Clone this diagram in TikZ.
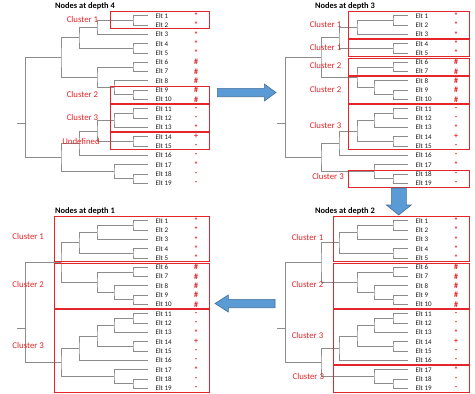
\documentclass[tikz,border=0pt]{standalone}
\usepackage{fontspec}
\setmainfont{Carlito}
\usepackage{tikz}
\usetikzlibrary{positioning}
\definecolor{astgrau}{RGB}{140,140,140}
\definecolor{boxrot}{RGB}{228,38,42}
\definecolor{pfeilblau}{RGB}{91,155,213}
\definecolor{pfeilrand}{RGB}{65,113,156}

\tikzset{
  branch/.style={astgrau, line width=0.8pt},
  clusterbox/.style={boxrot, line width=1pt},
  clusterlabel/.style={text=boxrot, font=\fontsize{8.8}{9}\selectfont, inner sep=0pt},
  eltlabel/.style={anchor=west, text=black!90, font=\fontsize{7}{7}\selectfont, inner sep=0pt},
  eltmark/.style={text=boxrot, font=\bfseries\fontsize{8}{8}\selectfont, inner sep=0pt},
  paneltitle/.style={font=\bfseries\fontsize{8.4}{9}\selectfont, inner sep=0pt},
  blockarrow/.style={fill=pfeilblau, draw=pfeilrand, line width=0.6pt, line join=miter}
}

% Dendrogramm, Blatt i liegt bei y=i
\newcommand{\dendro}{%
  % Blaetter mit Namen und Zeichen
  \foreach \i/\m in {1/*,2/*,3/*,4/*,5/*,6/\#,7/\#,8/\#,9/\#,10/\#,11/-,12/-,13/*,14/+,15/-,16/-,17/*,18/-,19/-}{
    \coordinate (e\i) at (148,\i);
    \node[eltlabel] (t\i) at (155.5,\i) {Elt \i};
    \node[eltmark] (s\i) at (196,\i) {\m};
  }
  % Verzweigungen
  \coordinate (m12) at (133,1.5);
  \coordinate (m123) at (97,2.25);
  \coordinate (m45) at (133,4.5);
  \coordinate (mA) at (79,3.375);
  \coordinate (m67) at (133,6.5);
  \coordinate (m910) at (133,9.5);
  \coordinate (m8910) at (114,8.75);
  \coordinate (mB) at (97,7.625);
  \coordinate (mAB) at (61,5.5);
  \coordinate (m1112) at (133,11.5);
  \coordinate (m1113) at (114,12.25);
  \coordinate (m1415) at (133,14.5);
  \coordinate (m1115) at (97,13.375);
  \coordinate (m1116) at (79,14.69);
  \coordinate (m1819) at (133,18.5);
  \coordinate (m1719) at (114,17.75);
  \coordinate (mC) at (61,16.22);
  \coordinate (wurzel) at (25.7,12.6);
  \coordinate (stumpf) at (17,12.6);
  \foreach \a/\v/\b in {e1/m12/e2, m12/m123/e3, e4/m45/e5, m123/mA/m45,
      e6/m67/e7, e9/m910/e10, e8/m8910/m910, m67/mB/m8910, mA/mAB/mB,
      e11/m1112/e12, m1112/m1113/e13, e14/m1415/e15, m1113/m1115/m1415,
      m1115/m1116/e16, e18/m1819/e19, e17/m1719/m1819, m1116/mC/m1719,
      mAB/wurzel/mC}
    \draw[branch] (\a) -| (\v) |- (\b);
  \draw[branch] (wurzel) -- (stumpf);
}

% roter Rahmen um Blatt #2 bis #3, linker Rand #1
\newcommand{\cbox}[3]{\draw[clusterbox] (#1,#2-0.42) rectangle (209.3,#3+0.42);}

\begin{document}
\begin{tikzpicture}[x=1pt, y=-1pt]
\fill[white] (0,0) rectangle (475,394);
\useasboundingbox (0,0) rectangle (475,394);

% oben links: Tiefe 4
\begin{scope}[shift={(0pt,-6.39pt)}, y=-9.31pt, name prefix=tl-]
  \node[paneltitle] (titel) at (85,0.03) {Nodes at depth 4};
  \dendro
  \cbox{110}{1}{2}
  \cbox{110}{9}{10}
  \cbox{110}{11}{13}
  \cbox{110}{14}{15}
  \node[clusterlabel] (c1) at (82.5,1.43) {Cluster 1};
  \node[clusterlabel] (c2) at (82.5,9.44) {Cluster 2};
  \node[clusterlabel] (c3) at (82.5,11.91) {Cluster 3};
  \node[clusterlabel] (undef) at (81,14.46) {Undefined};
\end{scope}

% oben rechts: Tiefe 3
\begin{scope}[shift={(260pt,-6.39pt)}, y=-9.31pt, name prefix=tr-]
  \node[paneltitle] (titel) at (85,0.03) {Nodes at depth 3};
  \dendro
  \cbox{88.3}{1}{3}
  \cbox{88.3}{4}{5}
  \cbox{88.3}{6}{7}
  \cbox{88.3}{8}{10}
  \cbox{88.3}{11}{15}
  \cbox{88.3}{18}{19}
  \node[clusterlabel] (c1) at (65.5,1.92) {Cluster 1};
  \node[clusterlabel] (c1b) at (65.5,4.39) {Cluster 1};
  \node[clusterlabel] (c2) at (65.5,6.40) {Cluster 2};
  \node[clusterlabel] (c2b) at (65.5,8.91) {Cluster 2};
  \node[clusterlabel] (c3) at (65.5,12.74) {Cluster 3};
  \node[clusterlabel] (c3b) at (68,18.29) {Cluster 3};
\end{scope}

% unten links: Tiefe 1
\begin{scope}[shift={(0pt,-211.39pt)}, y=-9.31pt, name prefix=bl-]
  \node[paneltitle] (titel) at (85,-0.05) {Nodes at depth 1};
  \dendro
  \cbox{54.3}{1}{5}
  \cbox{54.3}{6}{10}
  \cbox{54.3}{11}{19}
  \node[clusterlabel] (c1) at (28.2,2.72) {Cluster 1};
  \node[clusterlabel] (c2) at (28.2,7.83) {Cluster 2};
  \node[clusterlabel] (c3) at (28.2,14.43) {Cluster 3};
\end{scope}

% unten rechts: Tiefe 2
\begin{scope}[shift={(260pt,-211.39pt)}, y=-9.31pt, name prefix=br-]
  \node[paneltitle] (titel) at (85,-0.05) {Nodes at depth 2};
  \dendro
  \cbox{73.3}{1}{5}
  \cbox{73.3}{6}{10}
  \cbox{73.3}{11}{16}
  \cbox{73.3}{17}{19}
  \node[clusterlabel] (c1) at (47.5,2.78) {Cluster 1};
  \node[clusterlabel] (c2) at (47.5,7.83) {Cluster 2};
  \node[clusterlabel] (c3) at (47.5,13.28) {Cluster 3};
  \node[clusterlabel] (c3b) at (48.3,17.68) {Cluster 3};
\end{scope}

% Blockpfeile
\draw[blockarrow] (217.3,88.3) -- (264.3,88.3) -- (264.3,84) -- (276,92.5)
  -- (264.3,101) -- (264.3,96.7) -- (217.3,96.7) -- cycle;
\draw[blockarrow] (391.3,188) -- (406.3,188) -- (406.3,205) -- (411.3,205)
  -- (398.8,215) -- (386.3,205) -- (391.3,205) -- cycle;
\draw[blockarrow] (275,299.3) -- (275,307.7) -- (228.3,307.7) -- (228.3,312)
  -- (215,303.5) -- (228.3,295) -- (228.3,299.3) -- cycle;
\end{tikzpicture}
\end{document}
